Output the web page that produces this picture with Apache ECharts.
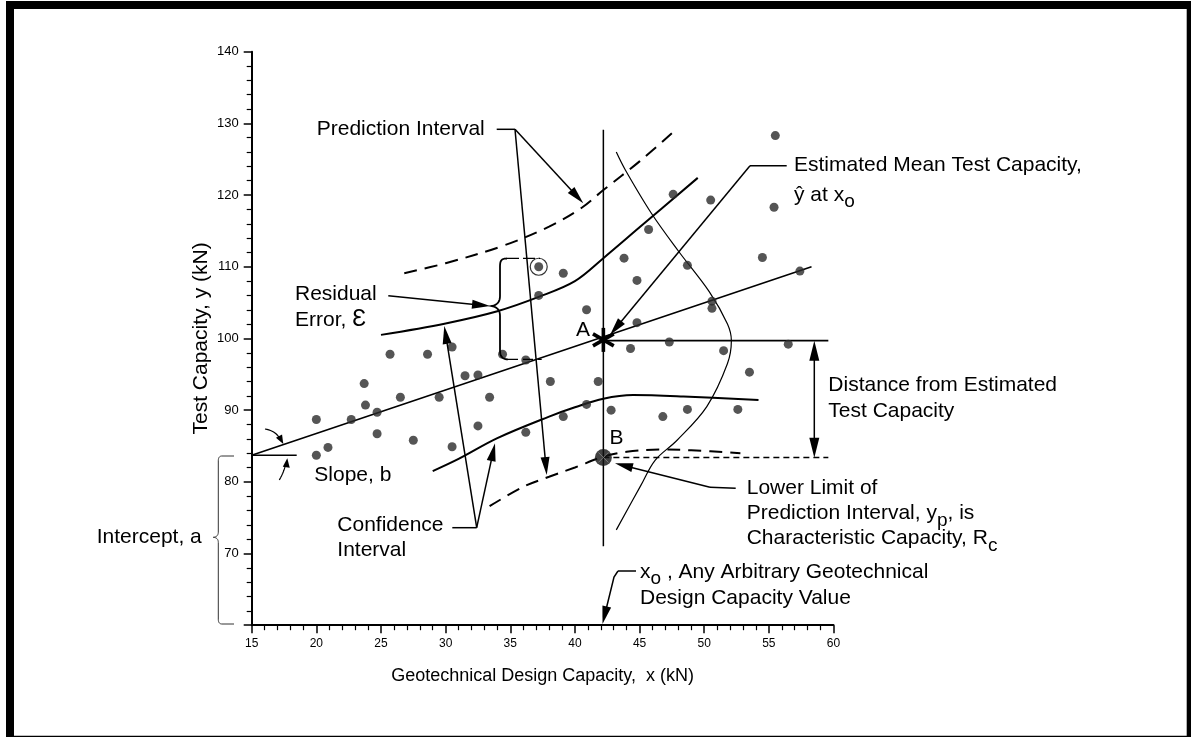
<!DOCTYPE html>
<html><head><meta charset="utf-8">
<script src="https://cdn.jsdelivr.net/npm/echarts@6/dist/echarts.min.js"></script>
<style>html,body{margin:0;padding:0;background:#fff}#c{width:1191px;height:737px}</style>
</head><body><div id="c"></div>
<script>
// ---------- data ----------
const xTickLabels = ['15','20','25','30','35','40','45','50','55','60'];
const yTickLabels = ['','70','80','90','100','110','120','130','140'];
const pointsX = [20,20,20.9,22.7,23.7,23.8,24.7,24.7,25.7,26.5,27.5,28.6,29.5,30.5,30.5,31.5,32.5,32.5,33.4,34.4,36.2,36.2,37.2,37.2,38.1,39.1,39.1,40.9,40.9,41.8,42.8,43.8,44.3,44.8,44.8,45.7,46.8,47.3,47.6,48.7,48.7,50.5,50.6,50.6,51.5,52.6,53.5,54.5,55.4,55.5,56.5,57.4];
const pointsY = [88.7,83.7,84.8,88.7,93.7,90.7,89.7,86.7,97.8,91.8,85.8,97.8,91.8,98.8,84.9,94.8,94.9,87.8,91.8,97.8,97.0,86.9,110.0,106.0,94.0,109.1,89.1,104.0,90.8,94.0,90.0,111.2,98.6,108.1,102.2,115.2,89.1,99.5,120.1,110.2,90.1,119.3,105.2,104.2,98.3,90.1,95.3,111.3,118.3,128.3,99.2,109.4];
const circledPoint = [37.2, 110.0];
const regressionLine = [[15,83.7],[58.3,110.0]];
const confUpper = [[25,100.5],[30,102.1],[34,103.8],[37.2,105.8],[40,108.0],[42.2,111.2],[45,115.5],[49.5,122.4]];
const confLower = [[29,81.5],[31,83.2],[34,86.1],[38,89.1],[40,90.4],[42.2,91.6],[44.5,92.1],[48.4,91.9],[54.2,91.4]];
const predUpper = [[26.8,109.1],[30,110.5],[34.4,112.9],[38,115.6],[40.5,118.2],[42.2,120.7],[45,124.7],[47.6,128.8]];
const predLower = [[33.4,76.6],[36,79.3],[38,80.7],[40,82.0],[42.2,83.5],[44,84.2],[46.6,84.5],[49,84.4],[52.8,84.0]];
const bellCurve = [[43.2,126],[43.9,123.5],[45.9,117.5],[48.0,112.2],[50.4,106.5],[51.8,102],[52.1,99.7],[51.8,96.5],[50.2,90.5],[47.9,85.8],[46.2,83],[45.1,79.5],[43.2,73.3]];
const pointA = [42.2, 99.8];
const pointB = [42.2, 83.4];
const x0Line = [[42.2,71],[42.2,129.1]];
const meanLevel = [[42.2,99.7],[59.6,99.7]];
const limitLevel = [[42.2,83.4],[59.6,83.4]];

// ---------- chart ----------
const FONT = '"Liberation Sans", Arial, Helvetica, sans-serif';
const chart = echarts.init(document.getElementById('c'), null, {renderer:'canvas', width:1191, height:737});
const lineS = (data, width, type, smooth) => ({
  type:'line', data, symbol:'none', smooth: smooth ? 0.35 : false, silent:true, z:3,
  lineStyle:{color:'#000', width, type: type || 'solid'}
});
const axisCommon = {
  type:'value',
  axisLine:{show:true, lineStyle:{color:'#000', width:2}},
  axisTick:{show:true, length:8, lineStyle:{color:'#000', width:1.5}},
  minorTick:{show:true, splitNumber:5, length:5, lineStyle:{color:'#000', width:1.2}},
  splitLine:{show:false}, minorSplitLine:{show:false}
};
chart.setOption({
  animation:false,
  backgroundColor:'#fff',
  grid:{left:251.7, top:51.7, width:581.8, height:573.5},
  xAxis: Object.assign({}, axisCommon, {
    min:15, max:60, interval:5,
    axisLabel:{color:'#000', fontSize:12, margin:12, fontFamily:FONT,
      formatter: v => xTickLabels[Math.round((v-15)/5)]},
    name:'Geotechnical Design Capacity,  x (kN)', nameLocation:'middle', nameGap:42,
    nameTextStyle:{color:'#000', fontSize:18, fontFamily:FONT}
  }),
  yAxis: Object.assign({}, axisCommon, {
    min:60, max:140, interval:10,
    axisLabel:{color:'#000', fontSize:13, margin:13, fontFamily:FONT,
      formatter: v => yTickLabels[Math.round((v-60)/10)]},
    name:'Test Capacity, y (kN)', nameLocation:'middle', nameGap:40,
    nameTextStyle:{color:'#000', fontSize:21, fontFamily:FONT}
  }),
  series:[
    lineS(regressionLine, 1.6),
    lineS(confUpper, 2, 'solid', true),
    lineS(confLower, 2, 'solid', true),
    lineS(predUpper, 2, [13,8], true),
    lineS(predLower, 2, [13,8], true),
    lineS(bellCurve, 1.2, 'solid', true),
    lineS(x0Line, 1.5),
    lineS(meanLevel, 1.8),
    lineS(limitLevel, 1.5, [6,4]),
    {type:'scatter', data: pointsX.map((x,i)=>[x, pointsY[i]]), symbol:'circle', symbolSize:9,
      itemStyle:{color:'#2b2b2b'}, silent:true, z:5},
    {type:'scatter', data:[circledPoint], symbol:'circle', symbolSize:17,
      itemStyle:{color:'rgba(0,0,0,0)', borderColor:'#000', borderWidth:1.2}, silent:true, z:6},
    {type:'scatter', data:[pointB], symbol:'circle', symbolSize:17,
      itemStyle:{color:'#111'}, silent:true, z:6}
  ]
});

// ---------- annotations ----------
const G = [];
const ctx = document.createElement('canvas').getContext('2d');
function tw(s, size){ ctx.font = size + 'px ' + FONT; return ctx.measureText(s).width; }
function pl(points, w, dash, color){
  G.push({type:'polyline', shape:{points}, silent:true, z:100,
    style:{stroke:color||'#000', lineWidth:w||1.5, fill:null, lineDash:dash||null}});
}
function head(from, to, len, hw){
  len = len||18; hw = hw||4.5;
  const dx=to[0]-from[0], dy=to[1]-from[1], L=Math.hypot(dx,dy), ux=dx/L, uy=dy/L;
  const bx=to[0]-ux*len, by=to[1]-uy*len;
  G.push({type:'polygon', silent:true, z:101,
    shape:{points:[to,[bx-uy*hw, by+ux*hw],[bx+uy*hw, by-ux*hw]]}, style:{fill:'#000', stroke:null}});
}
function arrow(points, w, len, hw){
  const n = points.length, a = points[n-2], b = points[n-1];
  const dx=b[0]-a[0], dy=b[1]-a[1], L=Math.hypot(dx,dy);
  const cut = (len||18)*0.6;
  const pts = points.slice(0, n-1).concat([[b[0]-dx/L*cut, b[1]-dy/L*cut]]);
  pl(pts, w);
  head(a, b, len, hw);
}
// sample a path made of M / L / C / Q commands into points
function pathPts(cmds){
  const out = []; let cur = null;
  for (const c of cmds){
    if (c[0]==='M' || c[0]==='L'){ cur=[c[1],c[2]]; out.push(cur); }
    else if (c[0]==='C'){
      const p0=cur, p1=[c[1],c[2]], p2=[c[3],c[4]], p3=[c[5],c[6]];
      for (let i=1;i<=12;i++){ const t=i/12, u=1-t;
        out.push([u*u*u*p0[0]+3*u*u*t*p1[0]+3*u*t*t*p2[0]+t*t*t*p3[0],
                  u*u*u*p0[1]+3*u*u*t*p1[1]+3*u*t*t*p2[1]+t*t*t*p3[1]]); }
      cur=p3;
    } else if (c[0]==='Q'){
      const p0=cur, p1=[c[1],c[2]], p2=[c[3],c[4]];
      for (let i=1;i<=12;i++){ const t=i/12, u=1-t;
        out.push([u*u*p0[0]+2*u*t*p1[0]+t*t*p2[0], u*u*p0[1]+2*u*t*p1[1]+t*t*p2[1]]); }
      cur=p2;
    }
  }
  return out;
}
function txt(parts, x, y){
  let cx = x;
  for (const p of parts){
    const s = p[0], size = p[1]||21, dy = p[2]||0;
    G.push({type:'text', x:cx, y:y+dy, silent:true, z:102,
      style:{text:s, fontSize:size, fontFamily:FONT, fill:'#000', align:'left', verticalAlign:'middle'}});
    cx += tw(s, size);
  }
}

// frame
G.push({type:'rect', shape:{x:10, y:5, width:1180.7, height:734.7}, silent:true, z:0,
  style:{fill:null, stroke:'#000', lineWidth:8}});

// Prediction Interval
txt([['Prediction Interval']], 316.7, 129.3);
pl([[496.7,129.3],[515,129.3]], 1.5);
arrow([[515,129.3],[583.3,203.3]], 1.5);
arrow([[515,129.3],[546.7,475]], 1.5);

// Residual error + brace
txt([['Residual']], 295, 294.3);
txt([['Error, '],['Ɛ', 23]], 295, 320);
arrow([[388.3,295.7],[490,306]], 1.5);
pl(pathPts([['M',507,258.5],['C',501,258.5,500,261,500,267],['L',500,296],['C',500,302,497,305,491.7,306],
  ['C',497,307,500,310,500,316],['L',500,350],['C',500,356,502,359.3,508,359.3]]), 1.8);
pl([[507,258.3],[540,258.3]], 1.2, [12,4]);
pl([[508,359.3],[541.7,359.3]], 1.2, [10,5]);

// Confidence Interval
txt([['Confidence']], 337.3, 525.7);
txt([['Interval']], 337.3, 550.7);
pl([[452.3,527.7],[476.7,527.7]], 1.5);
arrow([[476.7,527.7],[444.3,326]], 1.5);
arrow([[476.7,527.7],[495,443.3]], 1.5);

// Slope
txt([['Slope, b']], 314.3, 475);
pl([[251.7,455.3],[296.7,455.3]], 1.6);
pl(pathPts([['M',265,429],['Q',277,431,281,441]]), 1.2);
head([279.5,437],[283.3,444], 9, 3.5);
pl(pathPts([['M',279.3,480],['Q',284,472,286,463]]), 1.2);
head([286.3,467],[287.3,458.3], 9, 3.5);

// Intercept
txt([['Intercept, a']], 96.7, 537.3);
pl(pathPts([['M',234,456],['L',222,456],['C',219.5,456,218.3,457.5,218.3,461],['L',218.3,532],
  ['C',218.3,535.5,216.5,537,213.3,537.3],['C',216.5,537.6,218.3,539,218.3,542.5],['L',218.3,619],
  ['C',218.3,622.5,219.5,624,222,624],['L',234,624]]), 1, null, '#333');

// Estimated mean
txt([['Estimated Mean Test Capacity,']], 794, 165);
txt([['ŷ at x'],['o', 19, 7]], 794, 195);
pl([[786.7,165.7],[750,165.7]], 1.5);
arrow([[750,165.7],[610,335]], 1.5);

// A / B labels
txt([['A']], 576, 330);
txt([['B']], 609.5, 438.3);
const pa = chart.convertToPixel({gridIndex:0}, pointA);
for (const ang of [90, 30, -30]){
  const r = ang*Math.PI/180, dx = Math.cos(r)*12, dy = Math.sin(r)*12;
  pl([[pa[0]-dx, pa[1]-dy],[pa[0]+dx, pa[1]+dy]], 3.6);
}
const pb = chart.convertToPixel({gridIndex:0}, pointB);
pl([[pb[0]-5,pb[1]-5],[pb[0]+5,pb[1]+5]], 0.8, null, '#888');
pl([[pb[0]-5,pb[1]+5],[pb[0]+5,pb[1]-5]], 0.8, null, '#888');

// Distance
txt([['Distance from Estimated']], 828.3, 385.7);
txt([['Test Capacity']], 828.3, 411);
pl([[814.3,352],[814.3,446]], 1.5);
head([814.3,400],[814.3,340.7], 20, 5);
head([814.3,400],[814.3,457.7], 20, 5);

// Lower limit
txt([['Lower Limit of']], 746.7, 488.3);
txt([['Prediction Interval, y'],['p', 19, 7],[', is']], 746.7, 513.3);
txt([['Characteristic Capacity, R'],['c', 19, 7]], 746.7, 538.3);
pl([[735.7,488.3],[710,487.3]], 1.5);
arrow([[710,487.3],[615,463.3]], 1.5);

// x0
txt([['x'],['o', 19, 7],[' , Any Arbitrary Geotechnical']], 640, 572);
txt([['Design Capacity Value']], 640, 598);
pl([[636,571],[618,571]], 1.5);
arrow([[618,571],[614,577],[602.5,624]], 1.5);

chart.setOption({graphic: G});
</script>
</body></html>
